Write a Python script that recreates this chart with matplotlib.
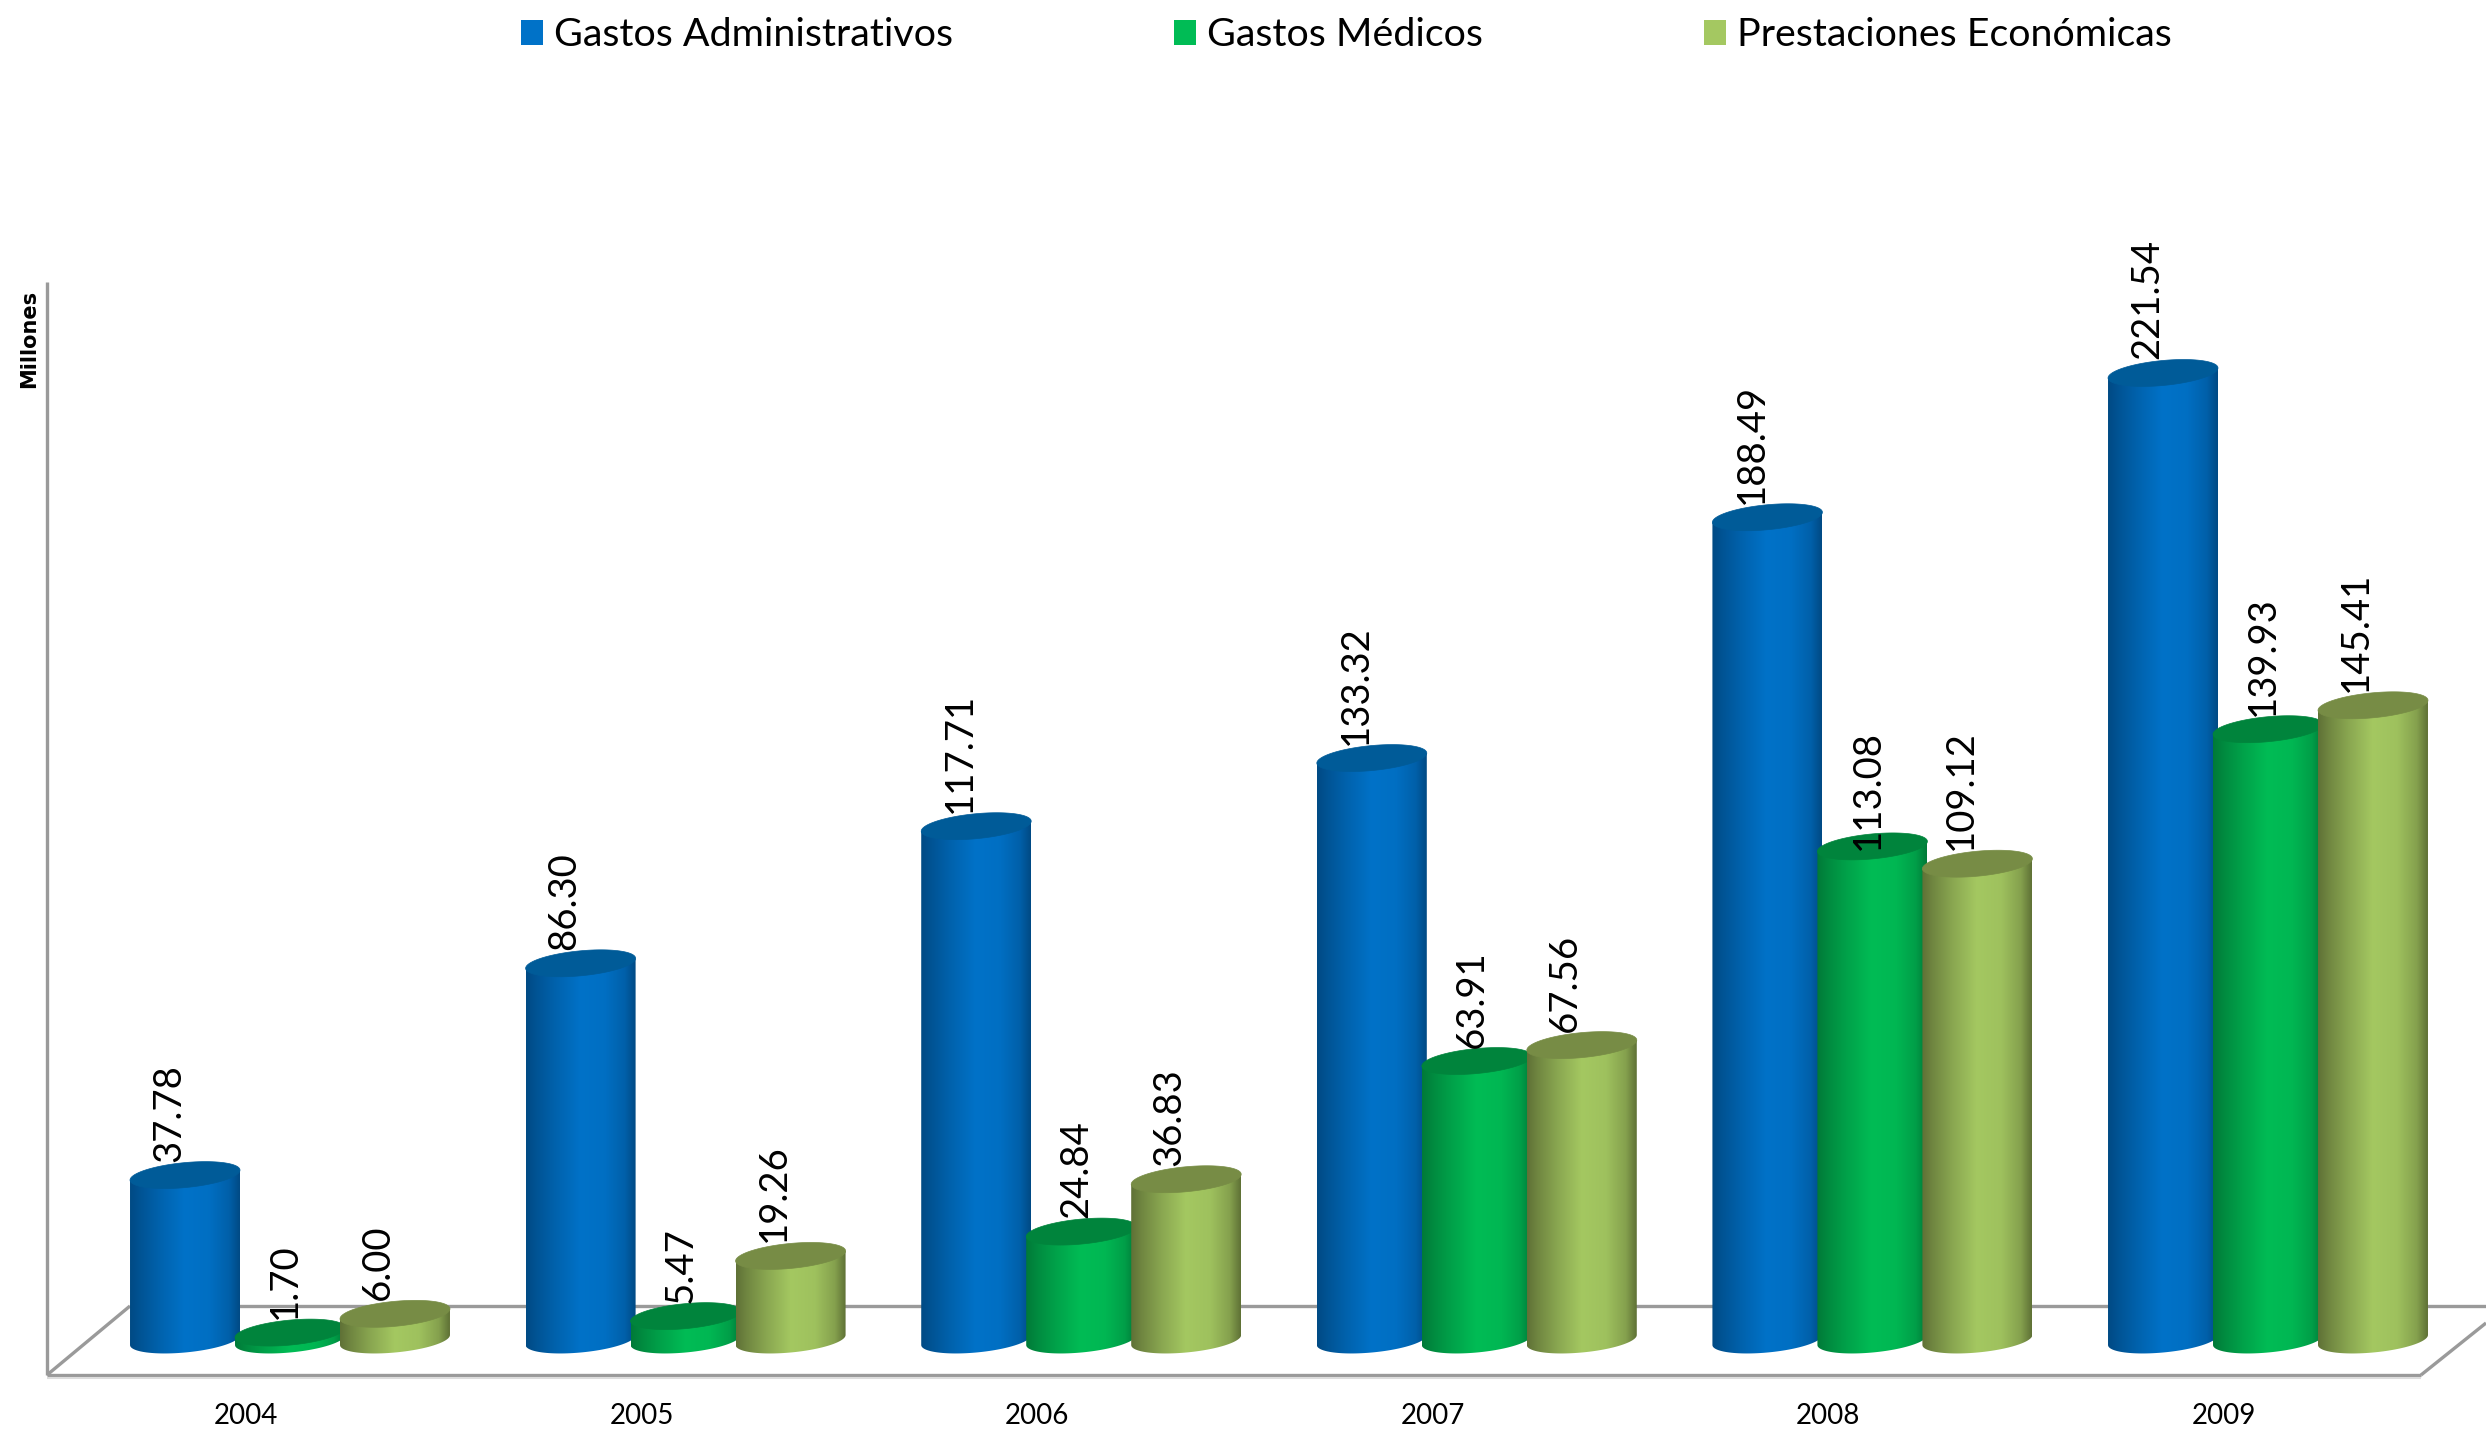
import numpy as np
import matplotlib
matplotlib.use('Agg')
from matplotlib import pyplot as plt
from matplotlib.colors import LinearSegmentedColormap
from matplotlib.patches import Patch
from matplotlib.path import Path

years = ['2004', '2005', '2006', '2007', '2008', '2009']
series_names = ['Gastos Administrativos', 'Gastos Médicos', 'Prestaciones Económicas']
gastos_admin = [37.78, 86.30, 117.71, 133.32, 188.49, 221.54]
gastos_medicos = [1.70, 5.47, 24.84, 63.91, 113.08, 139.93]
prestaciones = [6.00, 19.26, 36.83, 67.56, 109.12, 145.41]
series_values = [gastos_admin, gastos_medicos, prestaciones]

W, H = 2486, 1431
X0_PX, X_STEP_PX = 290.0, 395.6    # pixel of first group centre, pixels per group
Y0_PX, Y_UNIT_PX = 1340.0, 4.365   # pixel of value 0, pixels per unit

bright = ['#0072C8', '#00BC55', '#A4C861']
dark = ['#004A84', '#007A38', '#5F7136']
caps = ['#005B98', '#00843C', '#778C45']
label_dx_px = [-16, -5, -17]
offset = 0.2654
bar_w = 0.278

plt.rcParams['font.family'] = ['Lato', 'DejaVu Sans']

fig = plt.figure(figsize=(W / 100, H / 100), dpi=100)
ax = fig.add_axes([0, 0, 1, 1])
ax.set_xlim(-X0_PX / X_STEP_PX, (W - X0_PX) / X_STEP_PX)
ax.set_ylim((Y0_PX - H) / Y_UNIT_PX, Y0_PX / Y_UNIT_PX)
ax.axis('off')


def frame_line(xs, ys, z, color='#9A9A9A', lw=2.4):
    # frame is given in pixels, top-left origin
    ax.plot(np.array(xs) / W, 1 - np.array(ys) / H, color=color, lw=lw,
            transform=ax.transAxes, zorder=z, solid_capstyle='butt', clip_on=False)


# walls and floor
frame_line([47, 47], [282, 1375], 1)
frame_line([130, W], [1306, 1306], 1)
frame_line([47, 130], [1375, 1306], 1)
frame_line([47, 2421], [1375, 1375], 1)
frame_line([47, 2421], [1378, 1378], 1, color='#DDDDDD', lw=1.5)
frame_line([2421, W], [1375, 1323], 1)

# tilted ellipse of the cylinder ends, in data units
a = bar_w / 2
b = 12.5 / Y_UNIT_PX
s = 5.0 / Y_UNIT_PX
t_low = np.linspace(np.pi, 2 * np.pi, 60)
t_all = np.linspace(0, 2 * np.pi, 120)

grad_pos = [0, 0.10, 0.28, 0.50, 0.72, 0.90, 1]
grad_mix = [0, 0.25, 0.62, 1.0, 0.92, 0.55, 0]

for k, values in enumerate(series_values):
    d = np.array(matplotlib.colors.to_rgb(dark[k]))
    c = np.array(matplotlib.colors.to_rgb(bright[k]))
    cmap = LinearSegmentedColormap.from_list(
        'c%d' % k, [(p, tuple(d + (c - d) * m)) for p, m in zip(grad_pos, grad_mix)])
    grad = np.linspace(0, 1, 256).reshape(1, -1)
    for i, v in enumerate(values):
        z = 3 + i * 3 + k * 0.5
        cx = i + (k - 1) * offset
        # body outline: down the left side, round the base, up the right side
        xb = cx + a * np.cos(t_low)
        yb = b * np.sin(t_low) + s * np.cos(t_low)
        xs = np.r_[cx - a, xb, cx + a]
        ys = np.r_[v - s, yb, v + s]
        im = ax.imshow(grad, extent=[cx - a, cx + a, -10, v + 10], cmap=cmap, vmin=0, vmax=1,
                       aspect='auto', interpolation='bilinear', zorder=z)
        im.set_clip_path(Path(np.c_[xs, ys]), transform=ax.transData)
        ax.fill(cx + a * np.cos(t_all), v + b * np.sin(t_all) + s * np.cos(t_all),
                color=caps[k], lw=0.5, zorder=z + 0.1)

# imshow resets the limits
ax.set_xlim(-X0_PX / X_STEP_PX, (W - X0_PX) / X_STEP_PX)
ax.set_ylim((Y0_PX - H) / Y_UNIT_PX, Y0_PX / Y_UNIT_PX)

# value labels sit on the cap, 113.08 sinks into it
for k, values in enumerate(series_values):
    for i, v in enumerate(values):
        cx = i + (k - 1) * offset + label_dx_px[k] / X_STEP_PX
        nudge = -4.0 if v == 113.08 else 0.0
        ax.text(cx, v + 13.5 / Y_UNIT_PX + nudge, '%.2f' % v, rotation=90, ha='center', va='bottom',
                fontsize=27.5, color='black', zorder=30)

# category labels
for i, y in enumerate(years):
    ax.text(i - 44 / X_STEP_PX, (Y0_PX - 1416) / Y_UNIT_PX, y, ha='center', va='center',
            fontsize=20, color='black', zorder=30)

fig.text(29 / W, 1 - 339 / H, 'Millones', rotation=90, ha='center', va='center',
         fontsize=15, fontweight='bold', family='DejaVu Sans')

handles = [Patch(facecolor=bright[k], edgecolor='none', label=series_names[k]) for k in range(3)]
fig.legend(handles=handles, ncol=3, loc='center', bbox_to_anchor=(1346 / W, 1 - 35 / H), frameon=False,
           fontsize=28.4, handlelength=0.56, handleheight=0.6, handletextpad=0.28,
           columnspacing=5.6, borderpad=0, borderaxespad=0)

fig.savefig('out.png', dpi=100, facecolor='white')
